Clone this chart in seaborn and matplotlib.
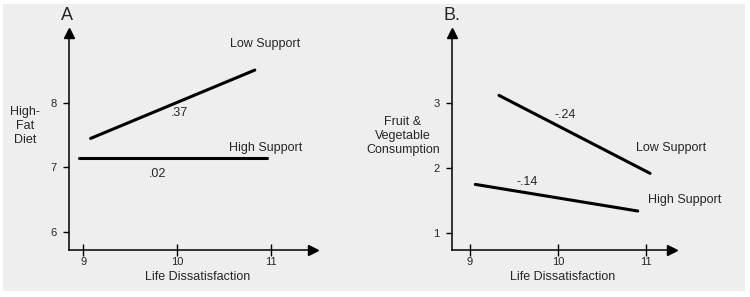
import matplotlib
matplotlib.use("Agg")
import matplotlib.pyplot as plt
from matplotlib.patches import Rectangle
import seaborn as sns

# Panel A: high-fat diet
a_low_x = [9.08, 10.83]
a_low_y = [7.45, 8.51]
a_high_x = [8.96, 10.96]
a_high_y = [7.14, 7.14]

# Panel B: fruit & vegetable consumption
b_low_x = [9.33, 11.05]
b_low_y = [3.12, 1.92]
b_high_x = [9.06, 10.91]
b_high_y = [1.75, 1.34]

x_ticks = [9, 10, 11]
a_yticks = [6, 7, 8]
b_yticks = [1, 2, 3]

sns.set_style("white")
plt.rcParams["font.family"] = ["Liberation Sans", "DejaVu Sans"]

W, H = 750, 297
fig = plt.figure(figsize=(W / 100, H / 100), dpi=100)
fig.patch.set_facecolor("white")
fig.patches.append(Rectangle((3 / W, 6 / H), 742 / W, 287 / H,
                             transform=fig.transFigure, facecolor="#eeeeee",
                             edgecolor="none", zorder=-10))


def px_axes(x0, x1, y0, y1):
    return fig.add_axes([x0 / W, 1 - y1 / H, (x1 - x0) / W, (y1 - y0) / H])


def style_axis(ax, yticks):
    ax.set_facecolor("none")
    for s in ["top", "right"]:
        ax.spines[s].set_visible(False)
    for s in ["left", "bottom"]:
        ax.spines[s].set_linewidth(1.1)
        ax.spines[s].set_color("black")
    ax.set_xticks(x_ticks)
    ax.set_yticks(yticks)
    ax.tick_params(axis="x", bottom=True, direction="inout", length=8, width=1,
                   color="black", labelsize=8, pad=1)
    ax.tick_params(axis="y", left=True, direction="out", length=4, width=1,
                   color="black", labelsize=8, pad=5)
    ax.plot(1, 0, ">", color="black", markersize=7, transform=ax.transAxes, clip_on=False)
    ax.plot(0, 1, "^", color="black", markersize=7, transform=ax.transAxes, clip_on=False)
    ax.set_xlabel("")
    ax.set_ylabel("")


# ---- Panel A ----
ax1 = px_axes(69, 313, 33, 250)
sns.lineplot(x=a_low_x, y=a_low_y, color="black", linewidth=2.2, ax=ax1)
sns.lineplot(x=a_high_x, y=a_high_y, color="black", linewidth=2.2, ax=ax1)
ax1.set_xlim(8.85, 11.45)
ax1.set_ylim(5.72, 9.085)
style_axis(ax1, a_yticks)
ax1.text(10.935, 8.91, "Low Support", ha="center", va="center", fontsize=9)
ax1.text(10.03, 7.85, ".37", ha="center", va="center", fontsize=9)
ax1.text(10.945, 7.30, "High Support", ha="center", va="center", fontsize=9)
ax1.text(9.79, 6.90, ".02", ha="center", va="center", fontsize=9)
fig.text(25 / W, 1 - 126 / H, "High-\nFat\nDiet", ha="center", va="center",
         fontsize=9, linespacing=1.25)
fig.text(67 / W, 1 - 16 / H, "A", ha="center", va="center", fontsize=13)
fig.text(198 / W, 1 - 277 / H, "Life Dissatisfaction", ha="center", va="center", fontsize=9)

# ---- Panel B ----
ax2 = px_axes(452, 672, 33, 250)
sns.lineplot(x=b_low_x, y=b_low_y, color="black", linewidth=2.2, ax=ax2)
sns.lineplot(x=b_high_x, y=b_high_y, color="black", linewidth=2.2, ax=ax2)
ax2.set_xlim(8.795, 11.30)
ax2.set_ylim(0.74, 4.08)
style_axis(ax2, b_yticks)
ax2.text(10.08, 2.82, "-.24", ha="center", va="center", fontsize=9)
ax2.text(11.295, 2.31, "Low Support", ha="center", va="center", fontsize=9)
ax2.text(9.65, 1.78, "-.14", ha="center", va="center", fontsize=9)
ax2.text(11.44, 1.51, "High Support", ha="center", va="center", fontsize=9)
fig.text(403 / W, 1 - 136 / H, "Fruit &\nVegetable\nConsumption", ha="center",
         va="center", fontsize=9, linespacing=1.25)
fig.text(452 / W, 1 - 16 / H, "B.", ha="center", va="center", fontsize=13)
fig.text(563 / W, 1 - 277 / H, "Life Dissatisfaction", ha="center", va="center", fontsize=9)

fig.savefig("out.png", dpi=100, facecolor="white")
